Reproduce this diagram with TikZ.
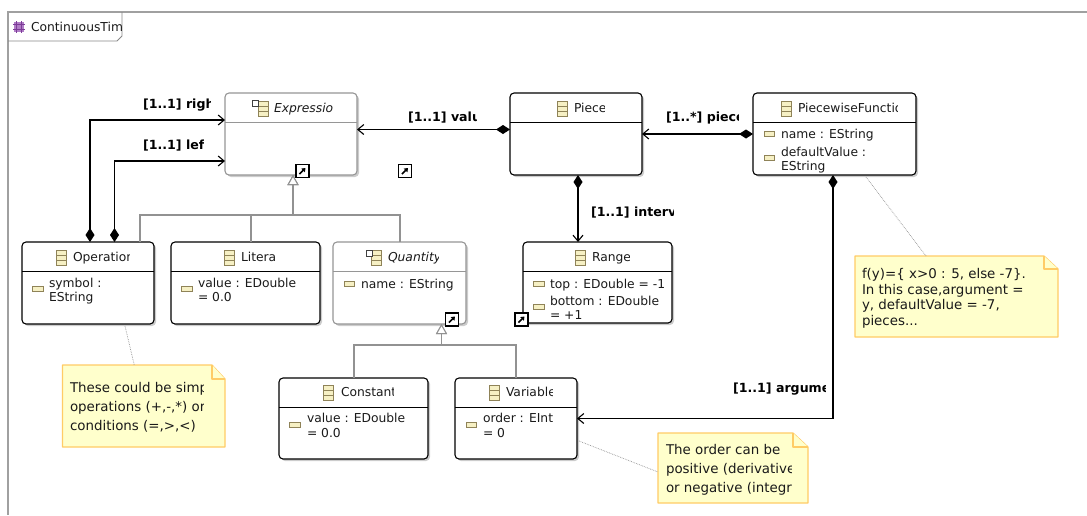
\documentclass[tikz,border=0pt]{standalone}
\usepackage{fontspec}
\setmainfont{DejaVu Sans}
\usetikzlibrary{arrows.meta,shadows,calc}
\definecolor{framegray}{HTML}{A0A0A0}
\definecolor{boxgray}{HTML}{969696}
\definecolor{gengray}{HTML}{929292}
\definecolor{notefill}{HTML}{FFFFCC}
\definecolor{noteline}{HTML}{FFCC66}
\definecolor{iconfill}{HTML}{F6F0C4}
\definecolor{iconline}{HTML}{8F8358}
\definecolor{pkg}{HTML}{B07CC6}
\definecolor{pkgdark}{HTML}{7D3C98}
\definecolor{txtcol}{HTML}{1A1A1A}
\tikzset{
  cls/.style={draw=black,line width=1.1pt,fill=white,rounded corners=4pt,inner sep=0pt,outer sep=0pt,
    drop shadow={shadow xshift=2pt,shadow yshift=-2pt,fill=black,opacity=.2}},
  absc/.style={cls,draw=boxgray},
  hdr/.style={line width=1pt,draw=black},
  abshdr/.style={line width=1pt,draw=boxgray},
  txt/.style={anchor=base west,inner sep=0pt,outer sep=0pt,font=\fontsize{12.3}{14}\selectfont,text=txtcol},
  notetxt/.style={txt,font=\fontsize{13.4}{15}\selectfont},
  titl/.style={txt},
  ital/.style={txt,font=\fontsize{12.3}{14}\selectfont\itshape},
  lbl/.style={txt,font=\fontsize{12.6}{15}\selectfont\bfseries,text=black},
  assoc/.style={draw=black,line width=1.2pt,{Diamond[length=14pt,width=9pt]}-{Straight Barb[length=6pt,width=10pt,line width=1.1pt]}},
  gen/.style={draw=gengray,line width=1.2pt,-{Triangle[open,fill=white,length=10pt,width=11pt,line width=1pt]}},
  anchorline/.style={draw=gray!85,line width=.7pt,densely dotted},
  notebox/.style={inner sep=0pt,outer sep=0pt},
  noteshape/.style={draw=noteline,fill=notefill,line width=1.2pt,line join=round},
}
% text with its centre line at y, cut off at xmax
\newcommand{\cliptxt}[6]{%
  \begin{scope}
    \clip (#2-2,#3-12) rectangle (#4,#3+12);
    \node[#5] (#1) at (#2,#3+4.5) {#6};
  \end{scope}}
\newcommand{\plaintxt}[5]{\node[#4] (#1) at (#2,#3+4.5) {#5};}
\newcommand{\clsbox}[6]{% name x0 y0 x1 y1 style
  \node[#6,minimum width={(#4-#2)*1pt},minimum height={(#5-#3)*1pt}] (#1) at ({(#2+#4)/2},{(#3+#5)/2}) {};}
\newcommand{\clsicon}[2]{% left, top
  \draw[iconline,fill=iconfill,line width=.9pt] (#1,#2) rectangle ++(10,15);
  \draw[iconline,line width=.6pt] (#1,#2+5) -- ++(10,0) (#1,#2+10) -- ++(10,0);}
\newcommand{\attricon}[2]{% left, centre y
  \draw[iconline,fill=iconfill,line width=1pt] (#1,#2-2.7) rectangle ++(10.5,5.4);}
\newcommand{\absbadge}[2]{%
  \draw[black!75,fill=white,line width=.6pt] (#1,#2) rectangle ++(6,6);}
\newcommand{\shortcut}[2]{% left, top
  \draw[black,fill=white,line width=1.1pt] (#1,#2) rectangle ++(13,13);
  \draw[black,line width=1.5pt,-{Triangle[length=3.5pt,width=5pt]}] (#1+3.5,#2+9.5) -- (#1+9.5,#2+3.5);}
\newcommand{\notenode}[8]{% name x0 y0 x1 y1 foldx foldy -
  \node[notebox,minimum width={(#4-#2)*1pt},minimum height={(#5-#3)*1pt}] (#1) at ({(#2+#4)/2},{(#3+#5)/2}) {};
  \draw[noteshape] (#2,#3) -- (#6,#3) -- (#4,#7) -- (#4,#5) -- (#2,#5) -- cycle;
  \draw[noteshape] (#6,#3) -- (#6,#7) -- (#4,#7);}
\begin{document}
\begin{tikzpicture}[x=1pt,y=-1pt]
\useasboundingbox (0,0) rectangle (1087,515);
\fill[white] (0,0) rectangle (1087,515);
% frame
\draw[framegray,line width=1.1pt] (1087,12) -- (8,12) -- (8,515);
\draw[framegray!85!black,line width=.9pt] (8,41) -- (117,41) -- (122,36) -- (122,12);
% package icon
\fill[pkg] (14,22) rectangle (24,32);
\draw[pkgdark,line width=.9pt] (16.5,21) -- (16.5,33) (21.5,21) -- (21.5,33) (13,24.5) -- (25,24.5) (13,29.5) -- (25,29.5);
\cliptxt{tabtitle}{31}{27}{121}{txt}{ContinuousTim}

% class boxes
\clsbox{expr}{225}{93}{357}{175}{absc}
\clsbox{piece}{510}{93}{642}{175}{cls}
\clsbox{pwf}{753}{93}{916}{175}{cls}
\clsbox{op}{22}{242}{154}{324}{cls}
\clsbox{lit}{171}{242}{320}{324}{cls}
\clsbox{qty}{333}{242}{466}{324}{absc}
\clsbox{rng}{523}{242}{672}{323}{cls}
\clsbox{cst}{279}{378}{428}{459}{cls}
\clsbox{var}{455}{378}{577}{459}{cls}

% compartment rules
\draw[abshdr] ([yshift=-29pt]expr.north west) -- ([yshift=-29pt]expr.north east);
\draw[hdr] ([yshift=-29.5pt]piece.north west) -- ([yshift=-29.5pt]piece.north east);
\draw[hdr] ([yshift=-29.5pt]pwf.north west) -- ([yshift=-29.5pt]pwf.north east);
\draw[hdr] ([yshift=-29.5pt]op.north west) -- ([yshift=-29.5pt]op.north east);
\draw[hdr] ([yshift=-29.5pt]lit.north west) -- ([yshift=-29.5pt]lit.north east);
\draw[abshdr] ([yshift=-29.5pt]qty.north west) -- ([yshift=-29.5pt]qty.north east);
\draw[hdr] ([yshift=-29.5pt]rng.north west) -- ([yshift=-29.5pt]rng.north east);
\draw[hdr] ([yshift=-29pt]cst.north west) -- ([yshift=-29pt]cst.north east);
\draw[hdr] ([yshift=-29pt]var.north west) -- ([yshift=-29pt]var.north east);

% titles
\clsicon{258}{101}\absbadge{252}{100}
\cliptxt{exprt}{274}{108}{333}{ital}{Expressio}
\clsicon{557}{101}
\cliptxt{piecet}{574}{108}{604}{titl}{Piece}
\clsicon{781}{101}
\cliptxt{pwft}{798}{108}{897}{titl}{PiecewiseFunctio}
\clsicon{56}{250}
\cliptxt{opt}{73}{257}{129}{titl}{Operation}
\clsicon{224}{250}
\cliptxt{litt}{241}{257}{276}{titl}{Litera}
\clsicon{371}{250}\absbadge{366}{250}
\cliptxt{qtyt}{388}{257}{438}{ital}{Quantity}
\clsicon{575}{250}
\cliptxt{rngt}{592}{257}{629}{titl}{Range}
\clsicon{323}{385}
\cliptxt{cstt}{341}{392}{393}{titl}{Constant}
\clsicon{489}{385}
\cliptxt{vart}{506}{392}{552}{titl}{Variable}

% attributes
\attricon{32.5}{289}
\plaintxt{opa}{49}{283}{txt}{symbol :}
\plaintxt{opb}{49}{297}{txt}{EString}
\attricon{181.5}{289}
\plaintxt{lita}{198}{283}{txt}{value : EDouble}
\plaintxt{litb}{198}{297}{txt}{= 0.0}
\attricon{344}{284}
\plaintxt{qtya}{361}{284}{txt}{name : EString}
\attricon{533.5}{284}
\plaintxt{rnga}{550}{284}{txt}{top : EDouble = -1}
\attricon{533.5}{307}
\plaintxt{rngb}{550}{301}{txt}{bottom : EDouble}
\plaintxt{rngc}{550}{315}{txt}{= +1}
\attricon{764}{134}
\plaintxt{pwfa}{781}{134}{txt}{name : EString}
\attricon{764}{158}
\plaintxt{pwfb}{781}{152}{txt}{defaultValue :}
\plaintxt{pwfc}{781}{166}{txt}{EString}
\attricon{289.5}{425}
\plaintxt{csta}{307}{418}{txt}{value : EDouble}
\plaintxt{cstb}{307}{433}{txt}{= 0.0}
\attricon{466}{425}
\cliptxt{vara}{483}{418}{552}{txt}{order : EInt}
\plaintxt{varb}{483}{433}{txt}{= 0}

% generalisations
\coordinate (busA) at (293,215);
\coordinate (busB) at (441.5,345);
\draw[gen] ([xshift=52pt]op.north) |- (busA) -- ([xshift=2pt]expr.south);
\draw[gen] ([xshift=5.5pt]lit.north) |- (busA) -- ([xshift=2pt]expr.south);
\draw[gen] ([xshift=0.5pt]qty.north) |- (busA) -- ([xshift=2pt]expr.south);
\draw[gen] ([xshift=0.5pt]cst.north) |- (busB) -- ([xshift=42pt]qty.south);
\draw[gen] (var.north) |- (busB) -- ([xshift=42pt]qty.south);

% associations
\draw[assoc] ([xshift=68pt]op.north west) |- ([yshift=14pt]expr.west);
\draw[assoc] ([xshift=92.5pt]op.north west) |- ([yshift=-27pt]expr.west);
\draw[assoc] ([yshift=4.5pt]piece.west) -- ([yshift=4.5pt]expr.east);
\draw[assoc] (pwf.west) -- (pwf.west -| piece.east);
\draw[assoc] ([xshift=2pt]piece.south) -- ([xshift=-19.5pt]rng.north);
\draw[assoc] ([xshift=-1.5pt]pwf.south) |- ([yshift=0pt]var.east);

% connector labels
\cliptxt{l1}{143}{104}{210}{lbl}{[1..1] righ}
\cliptxt{l2}{143}{145}{203}{lbl}{[1..1] lef}
\cliptxt{l3}{408}{117}{476}{lbl}{[1..1] valu}
\cliptxt{l4}{666}{117}{738}{lbl}{[1..*] piece}
\cliptxt{l5}{591}{212}{673}{lbl}{[1..1] interv}
\cliptxt{l6}{733}{388}{825}{lbl}{[1..1] argume}

% shortcut markers
\shortcut{296}{164.5}
\shortcut{398.5}{164.5}
\shortcut{445.5}{313}
\shortcut{515}{313}

% notes
\notenode{n1}{62.5}{365}{225}{447}{212}{379}{}
\cliptxt{n1a}{70}{388}{203}{notetxt}{These could be simp}
\cliptxt{n1b}{70}{407}{203}{notetxt}{operations (+,-,*) or}
\plaintxt{n1c}{70}{426}{notetxt}{conditions (=,>,<)}
\notenode{n2}{855}{256}{1058}{337}{1044}{269}{}
\plaintxt{n2a}{862}{274}{notetxt}{f(y)=\{ x>0 : 5, else -7\}.}
\plaintxt{n2b}{862}{290}{notetxt}{In this case,argument =}
\plaintxt{n2c}{862}{305}{notetxt}{y, defaultValue = -7,}
\plaintxt{n2d}{862}{321}{notetxt}{pieces...}
\notenode{n3}{658}{433}{808}{503}{793}{447}{}
\plaintxt{n3a}{666}{450}{notetxt}{The order can be}
\cliptxt{n3b}{666}{469}{791}{notetxt}{positive (derivative}
\cliptxt{n3c}{666}{488}{791}{notetxt}{or negative (integr}

% note anchors
\draw[anchorline] ([xshift=37pt,yshift=-2pt]op.south) -- ([xshift=-9.5pt]n1.north);
\draw[anchorline] ([xshift=31.5pt,yshift=-2pt]pwf.south) -- ([xshift=-30.5pt]n2.north);
\draw[anchorline] ([yshift=-22.5pt,xshift=2pt]var.east) -- ([yshift=-4pt]n3.west);
\end{tikzpicture}
\end{document}
